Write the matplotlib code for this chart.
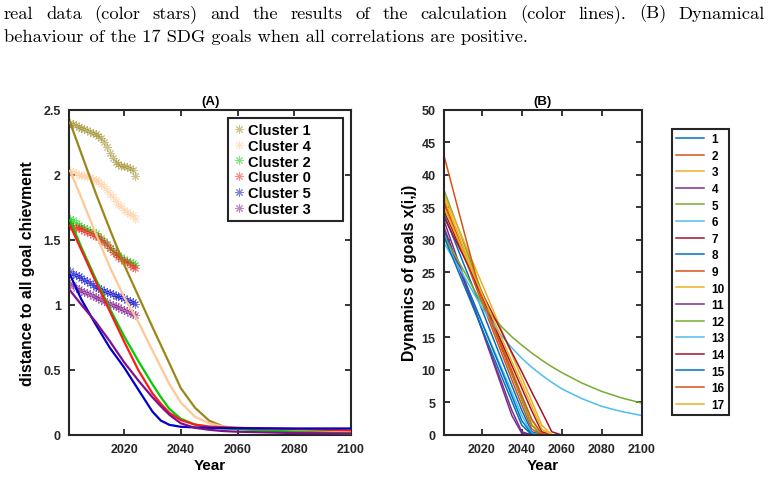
import matplotlib.pyplot as plt

# ---------------- data, panel A ----------------
obs_years = list(range(2001, 2025))
obs = {
    "Cluster 1": [2.40, 2.39, 2.38, 2.37, 2.36, 2.35, 2.34, 2.33, 2.32, 2.31, 2.30, 2.28,
                  2.25, 2.21, 2.17, 2.13, 2.10, 2.08, 2.07, 2.07, 2.06, 2.05, 2.04, 1.99],
    "Cluster 4": [2.03, 2.02, 2.01, 2.00, 2.00, 1.99, 1.99, 1.98, 1.97, 1.96, 1.95, 1.93,
                  1.91, 1.88, 1.85, 1.83, 1.80, 1.77, 1.76, 1.73, 1.71, 1.70, 1.69, 1.66],
    "Cluster 2": [1.66, 1.65, 1.63, 1.61, 1.60, 1.59, 1.58, 1.57, 1.56, 1.55, 1.53, 1.51,
                  1.49, 1.47, 1.44, 1.42, 1.40, 1.38, 1.37, 1.35, 1.34, 1.33, 1.32, 1.31],
    "Cluster 0": [1.61, 1.60, 1.59, 1.59, 1.58, 1.57, 1.56, 1.55, 1.54, 1.53, 1.52, 1.50,
                  1.48, 1.46, 1.44, 1.41, 1.39, 1.37, 1.35, 1.34, 1.33, 1.31, 1.29, 1.28],
    "Cluster 5": [1.26, 1.24, 1.23, 1.22, 1.21, 1.19, 1.18, 1.17, 1.15, 1.14, 1.13, 1.12,
                  1.11, 1.10, 1.09, 1.08, 1.07, 1.07, 1.06, 1.05, 1.04, 1.03, 1.02, 1.01],
    "Cluster 3": [1.16, 1.15, 1.13, 1.12, 1.11, 1.10, 1.09, 1.08, 1.07, 1.06, 1.05, 1.04,
                  1.03, 1.02, 1.01, 1.00, 0.99, 0.98, 0.97, 0.96, 0.95, 0.94, 0.93, 0.92],
}
model_years = [2001, 2005, 2010, 2015, 2020, 2025, 2030, 2033, 2036, 2040, 2045, 2050,
               2055, 2060, 2070, 2080, 2100]
model = {
    "Cluster 1": [2.40, 2.16, 1.86, 1.58, 1.31, 1.07, 0.83, 0.69, 0.55, 0.36, 0.21, 0.11,
                  0.065, 0.05, 0.035, 0.025, 0.015],
    "Cluster 4": [2.03, 1.82, 1.55, 1.29, 1.06, 0.87, 0.65, 0.52, 0.39, 0.25, 0.14, 0.09,
                  0.065, 0.055, 0.045, 0.04, 0.03],
    "Cluster 2": [1.65, 1.44, 1.20, 0.97, 0.76, 0.57, 0.39, 0.29, 0.20, 0.125, 0.08, 0.06,
                  0.05, 0.045, 0.035, 0.025, 0.012],
    "Cluster 0": [1.61, 1.42, 1.18, 0.95, 0.72, 0.50, 0.32, 0.24, 0.17, 0.115, 0.08, 0.065,
                  0.06, 0.055, 0.05, 0.045, 0.035],
    "Cluster 5": [1.23, 1.04, 0.85, 0.67, 0.52, 0.35, 0.18, 0.11, 0.078, 0.063, 0.058,
                  0.055, 0.053, 0.052, 0.051, 0.05, 0.05],
    "Cluster 3": [1.11, 1.00, 0.87, 0.72, 0.56, 0.42, 0.29, 0.22, 0.155, 0.09, 0.055, 0.04,
                  0.03, 0.025, 0.02, 0.015, 0.01],
}
cluster_colors = {
    "Cluster 1": "#9a861a",
    "Cluster 4": "#ffc895",
    "Cluster 2": "#00cc00",
    "Cluster 0": "#ff1a1a",
    "Cluster 5": "#0000c8",
    "Cluster 3": "#80108a",
}

# ---------------- data, panel B ----------------
goal_years = [2001, 2010, 2020, 2030, 2035, 2040, 2045, 2050, 2055, 2060, 2070, 2080, 2090, 2100]
goals = [
    [34.0, 27.0, 19.3, 11.5, 7.6, 3.8, 0.5, 0, 0, 0, 0, 0, 0, 0],
    [36.0, 28.9, 21.1, 13.2, 9.3, 5.4, 1.5, 0.05, 0, 0, 0, 0, 0, 0],
    [36.5, 29.5, 21.7, 13.9, 10.0, 6.1, 2.2, 0.1, 0, 0, 0, 0, 0, 0],
    [33.0, 25.1, 16.2, 7.4, 3.0, 0.25, 0, 0, 0, 0, 0, 0, 0, 0],
    [37.7, 30.3, 22.0, 13.7, 9.6, 5.5, 1.5, 0.05, 0, 0, 0, 0, 0, 0],
    [31.0, 24.5, 17.4, 10.2, 6.6, 3.0, 0.25, 0, 0, 0, 0, 0, 0, 0],
    [34.5, 28.2, 21.2, 14.2, 10.7, 7.2, 3.7, 0.5, 0, 0, 0, 0, 0, 0],
    [31.5, 24.8, 17.3, 9.8, 6.0, 2.2, 0.1, 0, 0, 0, 0, 0, 0, 0],
    [35.5, 28.4, 20.4, 12.5, 8.5, 4.6, 0.9, 0.02, 0, 0, 0, 0, 0, 0],
    [37.0, 30.5, 23.3, 16.0, 12.4, 8.8, 5.2, 1.5, 0.05, 0, 0, 0, 0, 0],
    [32.0, 24.5, 16.3, 8.0, 3.8, 0.5, 0, 0, 0, 0, 0, 0, 0, 0],
    [30.5, 25.8, 20.2, 16.6, 15.1, 13.8, 12.6, 11.5, 10.5, 9.6, 8.0, 6.7, 5.7, 4.9],
    [29.5, 25.0, 19.6, 15.2, 13.4, 11.8, 10.4, 9.2, 8.1, 7.1, 5.6, 4.4, 3.6, 3.0],
    [33.5, 28.0, 21.9, 15.8, 12.7, 9.7, 6.6, 3.6, 0.5, 0, 0, 0, 0, 0],
    [30.5, 23.8, 16.4, 8.9, 5.2, 1.5, 0.02, 0, 0, 0, 0, 0, 0, 0],
    [43.0, 32.5, 21.0, 13.5, 9.8, 6.0, 2.4, 0.2, 0, 0, 0, 0, 0, 0],
    [35.0, 28.7, 21.8, 14.8, 11.3, 7.9, 4.4, 0.9, 0.02, 0, 0, 0, 0, 0],
]
goal_labels = [str(i) for i in range(1, 18)]
matlab_colors = ["#0072BD", "#D95319", "#EDB120", "#7E2F8E", "#77AC30", "#4DBEEE", "#A2142F"]

caption1 = "real data (color stars) and the results of the calculation (color lines).  (B) Dynamical"
caption2 = "behaviour of the 17 SDG goals when all correlations are positive."

plt.rcParams['font.family'] = ['Liberation Sans', 'DejaVu Sans']
plt.rcParams['font.weight'] = 'bold'
plt.rcParams['axes.labelweight'] = 'bold'
plt.rcParams['axes.titleweight'] = 'bold'

fig = plt.figure(figsize=(7.68, 4.81), dpi=100)
W = 768

# caption text from the paper; first line is justified like in the pdf
cap = dict(family='cmr10', fontsize=13.3, fontweight='normal', va='center', ha='left')
renderer = fig.canvas.get_renderer()
words = caption1.split()
txts = [fig.text(0, 1 - 14 / 481, w, **cap) for w in words]
widths = [t.get_window_extent(renderer).width for t in txts]
gap = (761 - sum(widths)) / (len(words) - 1)
x = 4.0
for t, w in zip(txts, widths):
    t.set_x(x / W)
    x += w + gap
fig.text(4 / W, 1 - 37 / 481, caption2, **cap)


def style_axes(ax):
    for s in ax.spines.values():
        s.set_linewidth(1.5)
        s.set_color('#262626')
    ax.tick_params(direction='in', top=True, right=True, length=4, width=1.3,
                   labelsize=9, colors='#262626', pad=6)
    for lab in ax.get_xticklabels() + ax.get_yticklabels():
        lab.set_fontweight('bold')


# ---------------- panel A ----------------
axA = fig.add_axes([0.0902, 0.0936, 0.3668, 0.6763])
handles = []
for name in obs:
    c = cluster_colors[name]
    axA.plot(model_years, model[name], color=c, lw=1.6, zorder=3)
    h, = axA.plot(obs_years, obs[name], ls='none', marker=(8, 2, 0), ms=6, mew=0.7,
                  color=c, alpha=0.5, label=name, zorder=2)
    handles.append(h)
axA.set_xlim(2000.7, 2100)
axA.set_ylim(0, 2.5)
axA.set_xticks([2020, 2040, 2060, 2080, 2100])
axA.set_yticks([0, 0.5, 1, 1.5, 2, 2.5])
axA.set_yticklabels(["0", "0.5", "1", "1.5", "2", "2.5"])
axA.set_xlabel("Year", fontsize=11, labelpad=2)
axA.set_ylabel("distance to all goal chievment", fontsize=11.3, labelpad=6)
axA.set_title("(A)", fontsize=9.5, pad=4)
style_axes(axA)
legA = axA.legend(handles=handles, loc='upper left', mode='expand',
                  bbox_to_anchor=(0.5634, 0.9745, 0.408, 0.0),
                  fontsize=10.5, handlelength=0.8, handletextpad=0.2, labelspacing=0.12,
                  borderpad=0.35, fancybox=False, framealpha=1, edgecolor='#262626',
                  borderaxespad=0)
legA.get_frame().set_linewidth(1.5)
for t in legA.get_texts():
    t.set_fontweight('bold')

# ---------------- panel B ----------------
axB = fig.add_axes([0.578, 0.0936, 0.2574, 0.6763])
lines = []
for i, vals in enumerate(goals):
    ln, = axB.plot(goal_years, vals, color=matlab_colors[i % 7], lw=1.1, label=goal_labels[i])
    lines.append(ln)
axB.set_xlim(2001, 2100)
axB.set_ylim(0, 50)
axB.set_xticks([2020, 2040, 2060, 2080, 2100])
axB.set_yticks(list(range(0, 51, 5)))
axB.set_xlabel("Year", fontsize=11, labelpad=2)
axB.set_ylabel("Dynamics of goals x(i,j)", fontsize=11.3, labelpad=3)
axB.set_title("(B)", fontsize=9.5, pad=4)
style_axes(axB)
legB = fig.legend(handles=lines, loc='upper left', bbox_to_anchor=(0.875, 0.7297),
                  fontsize=8.5, handlelength=2.4, handletextpad=0.6, labelspacing=0.39,
                  borderpad=0.35, fancybox=False, framealpha=1, edgecolor='#262626',
                  borderaxespad=0)
legB.get_frame().set_linewidth(1.5)
for t in legB.get_texts():
    t.set_fontweight('bold')

fig.savefig("out.png", dpi=100)
